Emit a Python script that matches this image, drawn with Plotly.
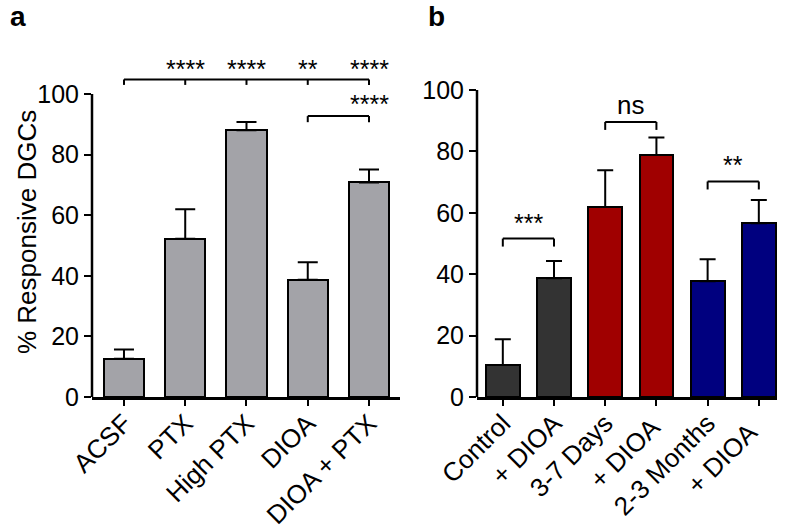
import plotly.graph_objects as go

# panel a
cats_a = ["ACSF", "PTX", "High PTX", "DIOA", "DIOA + PTX"]
vals_a = [12.6, 52.2, 88.0, 38.7, 70.8]
err_a = [3.1, 9.8, 2.8, 5.8, 4.3]
stars_a = ["", "****", "****", "**", "****"]   # over the long bracket
bracket_a = 104.8
pair_a = (3, 4, 92.7, "****")

# panel b
cats_b = ["Control", "+ DIOA", "3-7 Days", "+ DIOA ", "2-3 Months", "+ DIOA  "]
vals_b = [10.4, 38.7, 61.9, 78.8, 37.7, 56.6]
err_b = [8.4, 5.6, 12.0, 5.7, 7.2, 7.6]
colors_b = ["#333333", "#333333", "#a00000", "#a00000", "#00007f", "#00007f"]
pairs_b = [(0, 1, 51.6, "***"), (2, 3, 89.6, "ns"), (4, 5, 70.2, "**")]

FONT = "Liberation Sans, Arial, sans-serif"
W, H = 787, 530

fig = go.Figure()
fig.add_trace(go.Bar(
    x=cats_a, y=vals_a, width=0.66, xaxis="x", yaxis="y",
    marker=dict(color="#a3a3a8", line=dict(color="black", width=2)),
    error_y=dict(type="data", array=err_a, arrayminus=[0] * len(err_a), symmetric=False,
                 color="black", thickness=2, width=10),
    showlegend=False, hoverinfo="skip"))
fig.add_trace(go.Bar(
    x=cats_b, y=vals_b, width=0.66, xaxis="x2", yaxis="y2",
    marker=dict(color=colors_b, line=dict(color="black", width=2)),
    error_y=dict(type="data", array=err_b, arrayminus=[0] * len(err_b), symmetric=False,
                 color="black", thickness=2, width=8),
    showlegend=False, hoverinfo="skip"))

# brackets
shapes = []
annos = []
line = dict(color="black", width=2)
starfont = dict(size=25, family=FONT, color="black")

def bracket(xr, yr, i0, i1, y, drop, cats):
    shapes.append(dict(type="line", xref=xr, yref=yr, x0=cats[i0], x1=cats[i1], y0=y, y1=y, line=line))
    shapes.append(dict(type="line", xref=xr, yref=yr, x0=cats[i0], x1=cats[i0], y0=y, y1=y - drop, line=line))
    shapes.append(dict(type="line", xref=xr, yref=yr, x0=cats[i1], x1=cats[i1], y0=y, y1=y - drop, line=line))

bracket("x", "y", 0, len(cats_a) - 1, bracket_a, 1.8, cats_a)
for i, s in enumerate(stars_a):
    if 0 < i < len(cats_a) - 1:
        shapes.append(dict(type="line", xref="x", yref="y", x0=cats_a[i], x1=cats_a[i],
                           y0=bracket_a, y1=bracket_a - 1.8, line=line))
    if s:
        annos.append(dict(x=cats_a[i], y=bracket_a, xref="x", yref="y", text=s, showarrow=False,
                          yanchor="bottom", yshift=-6, font=starfont))
i0, i1, yb, s = pair_a
bracket("x", "y", i0, i1, yb, 2.0, cats_a)
annos.append(dict(x=cats_a[i1], y=yb, xref="x", yref="y", text=s, showarrow=False,
                  yanchor="bottom", yshift=-4, font=starfont))

for i0, i1, yb, s in pairs_b:
    bracket("x2", "y2", i0, i1, yb, 2.6, cats_b)
    annos.append(dict(x=(i0 + i1) / 2, y=yb, xref="x2", yref="y2", text=s, showarrow=False,
                      yanchor="bottom", yshift=0,
                      font=dict(size=(26 if s == "ns" else 25), family=FONT, color="black")))

# y-axis lines only up to 100
shapes.append(dict(type="line", xref="x domain", yref="y", x0=0, x1=0, y0=0, y1=100,
                   line=dict(color="black", width=2.5)))
shapes.append(dict(type="line", xref="x2 domain", yref="y2", x0=0, x1=0, y0=0, y1=100,
                   line=dict(color="black", width=2.5)))

annos.append(dict(x=27 / W, y=1 - 232 / H, xref="paper", yref="paper", text="% Responsive DGCs",
                  textangle=-90, showarrow=False, xanchor="center", yanchor="middle",
                  font=dict(size=26, family=FONT, color="black")))
annos.append(dict(x=18 / W, y=1 - 17 / H, xref="paper", yref="paper", text="<b>a</b>",
                  showarrow=False, xanchor="center", yanchor="middle",
                  font=dict(size=28, family=FONT, color="black")))
annos.append(dict(x=436 / W, y=1 - 17 / H, xref="paper", yref="paper", text="<b>b</b>",
                  showarrow=False, xanchor="center", yanchor="middle",
                  font=dict(size=28, family=FONT, color="black")))

xcommon = dict(showline=True, linecolor="black", linewidth=2.5, ticks="outside", ticklen=6,
               tickwidth=2, tickcolor="black", tickangle=-45, ticklabelstandoff=-8,
               tickfont=dict(size=26, family=FONT, color="black"),
               showgrid=False, zeroline=False, automargin=False, fixedrange=True)
ycommon = dict(showline=False, ticks="outside", ticklen=7, tickwidth=2, tickcolor="black",
               tickvals=[0, 20, 40, 60, 80, 100],
               tickfont=dict(size=25, family=FONT, color="black"), showgrid=False,
               zeroline=False, automargin=False, fixedrange=True)

ybot = 1 - 397 / H
ytop = 1 - 40 / H
fig.update_layout(
    width=W, height=H, margin=dict(l=0, r=0, t=0, b=0),
    paper_bgcolor="white", plot_bgcolor="white", bargap=0,
    xaxis=dict(domain=[92 / W, 400 / W], range=[-0.522, 4.506], anchor="y", **xcommon),
    yaxis=dict(domain=[ybot, ytop], range=[0, (397 - 40) / 3.03], anchor="x", **ycommon),
    xaxis2=dict(domain=[477 / W, 777 / W], range=[-0.504, 5.355], anchor="y2", **xcommon),
    yaxis2=dict(domain=[ybot, ytop], range=[0, (397 - 40) / 3.07], anchor="x2", **ycommon),
    shapes=shapes, annotations=annos,
)

fig.write_html("out.html", config={"displayModeBar": False},
               post_script="document.body.style.margin='0';")
